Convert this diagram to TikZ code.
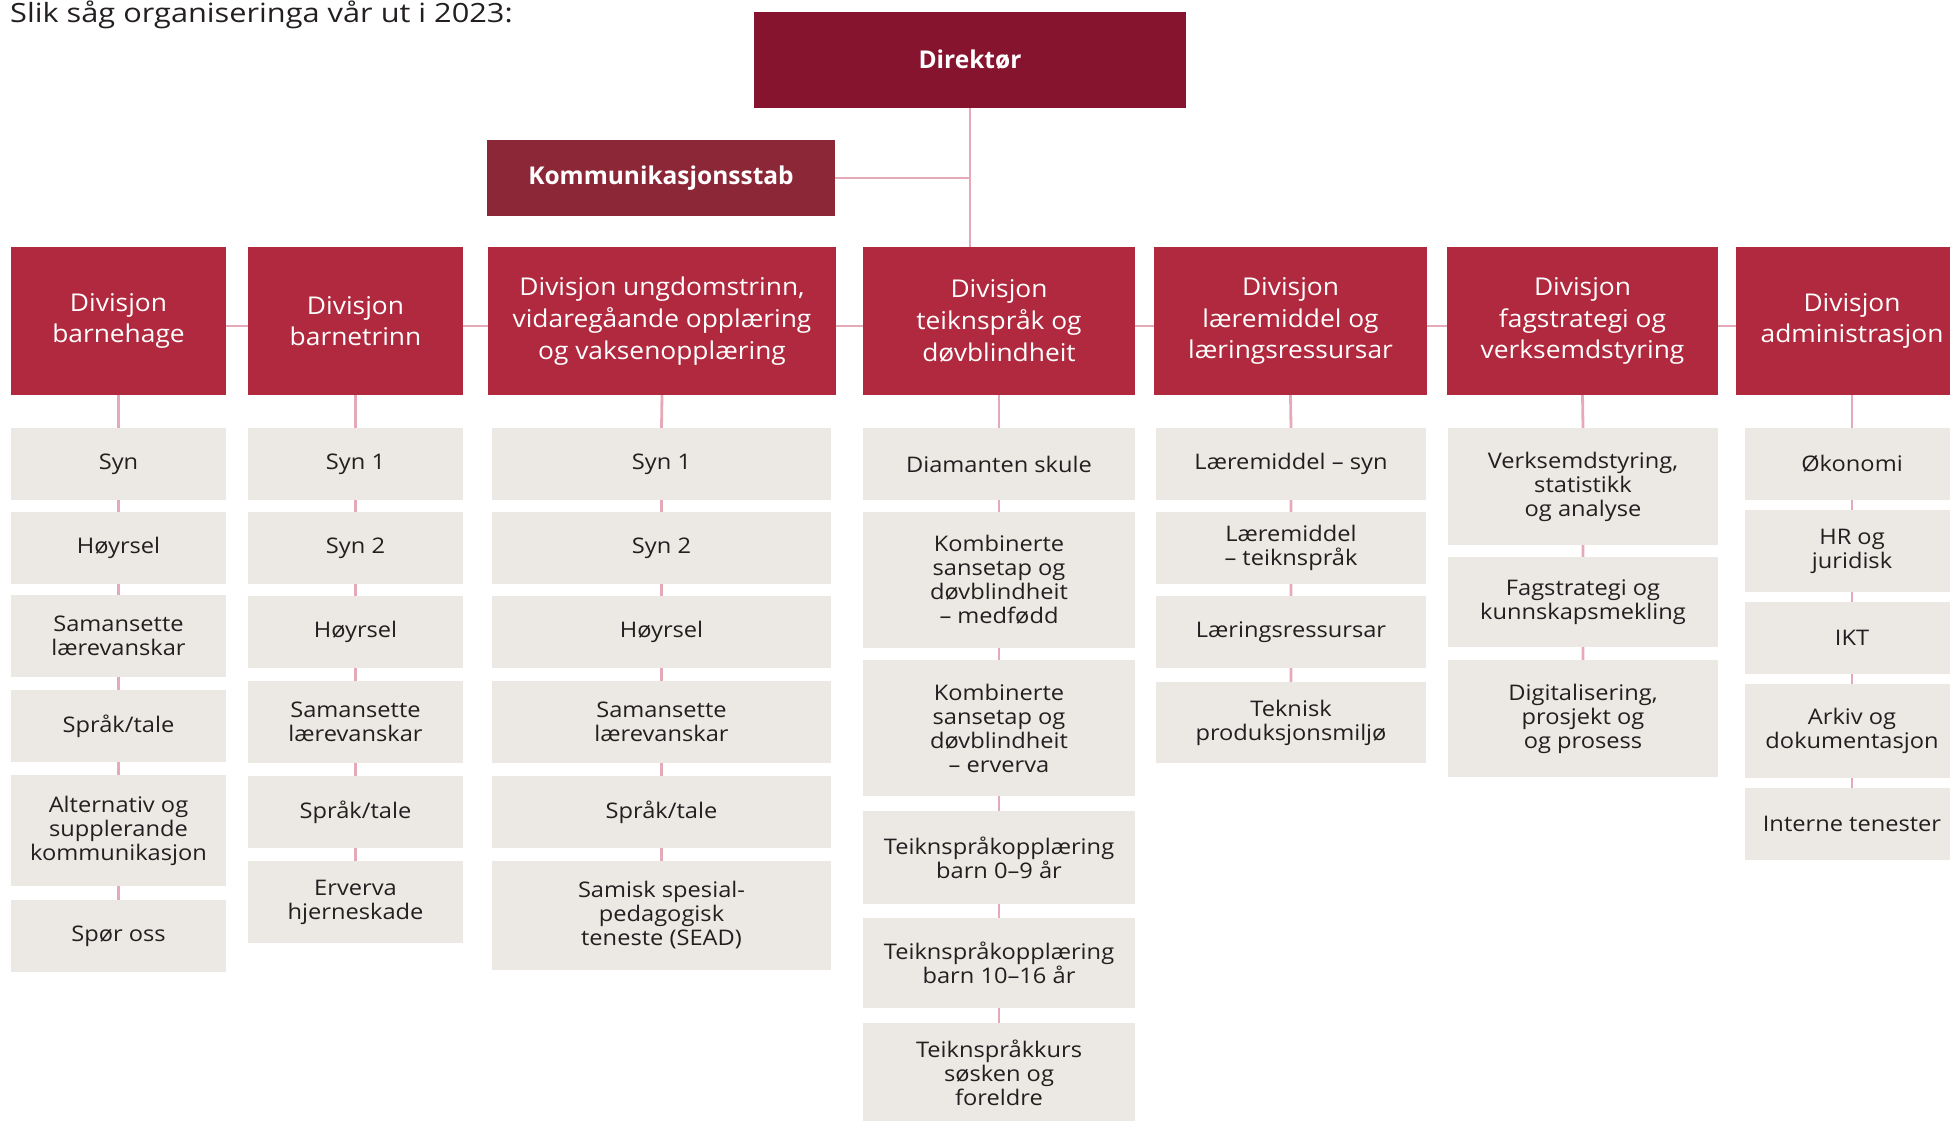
\documentclass[tikz,border=0pt]{standalone}
\usepackage{fontspec}
\setmainfont{Open Sans}
\newfontfamily\divfont[FakeStretch=1.075]{Open Sans}
\newfontfamily\unitfont[FakeStretch=1.1]{Open Sans}
\newfontfamily\titlefont[FakeStretch=1.16]{Open Sans}
\definecolor{dirred}{HTML}{86142F}
\definecolor{stabred}{HTML}{8C2737}
\definecolor{divred}{HTML}{B1293F}
\definecolor{unitgrey}{HTML}{ECE9E5}
\definecolor{linkpink}{HTML}{E5A9B8}
\definecolor{inktext}{HTML}{231F20}
\begin{document}
\begin{tikzpicture}[x=1pt, y=-1pt,
  sz/.style 2 args={minimum width=#1pt, minimum height=#2pt},
  top/.style={text=white, inner sep=0pt, font=\bfseries\fontsize{24.5}{30}\selectfont},
  div/.style={fill=divred, text=white, inner sep=0pt, align=center, font=\divfont\fontsize{24.5}{31.7}\selectfont},
  unit/.style={fill=unitgrey, text=inktext, inner sep=0pt, align=center, font=\unitfont\fontsize{21.5}{24}\selectfont},
  link/.style={draw=linkpink, line width=2.8pt}]
\path[use as bounding box] (0,0) rectangle (1950,1120);
\clip (0,0) rectangle (1950,1120);

\node[anchor=base west, inner sep=0pt, text=inktext, font=\titlefont\fontsize{26.5}{30}\selectfont] (title) at (10,22) {Slik såg organiseringa vår ut i 2023:};

\node[top, fill=dirred, sz={432}{96}] (dir) at (970,60) {Direktør};
\node[top, fill=stabred, sz={348}{76}] (kom) at (661,178) {Kommunikasjonsstab};

\node[div, sz={215}{148}] (d1) at (118.5,321) {Divisjon\\barnehage};
\node[div, sz={215}{148}] (d2) at (355.5,321) {Divisjon\\barnetrinn};
\node[div, sz={348}{148}] (d3) at (662,321) {Divisjon ungdomstrinn,\\vidaregåande opplæring\\og vaksenopplæring};
\node[div, sz={272}{148}] (d4) at (999,321) {Divisjon\\teiknspråk og\\døvblindheit};
\node[div, sz={273}{148}] (d5) at (1290.5,321) {Divisjon\\læremiddel og\\læringsressursar};
\node[div, sz={271}{148}] (d6) at (1582.5,321) {Divisjon\\fagstrategi og\\verksemdstyring};
\node[div, sz={232}{148}] (d7) at (1852,321) {Divisjon\\administrasjon};

%barnehage
\node[unit, sz={215}{72}] (s1a) at (118.5,464) {Syn};
\node[unit, sz={215}{72}] (s1b) at (118.5,548) {Høyrsel};
\node[unit, sz={215}{82}] (s1c) at (118.5,636) {Samansette\\lærevanskar};
\node[unit, sz={215}{72}] (s1d) at (118.5,726) {Språk/tale};
\node[unit, sz={215}{111}] (s1e) at (118.5,830.5) {Alternativ og\\supplerande\\kommunikasjon};
\node[unit, sz={215}{72}] (s1f) at (118.5,936) {Spør oss};

%barnetrinn
\node[unit, sz={215}{72}] (s2a) at (355.5,464) {Syn 1};
\node[unit, sz={215}{72}] (s2b) at (355.5,548) {Syn 2};
\node[unit, sz={215}{72}] (s2c) at (355.5,632) {Høyrsel};
\node[unit, sz={215}{82}] (s2d) at (355.5,722) {Samansette\\lærevanskar};
\node[unit, sz={215}{72}] (s2e) at (355.5,812) {Språk/tale};
\node[unit, sz={215}{82}] (s2f) at (355.5,902) {Erverva\\hjerneskade};

%ungdomstrinn
\node[unit, sz={339}{72}] (s3a) at (661.5,464) {Syn 1};
\node[unit, sz={339}{72}] (s3b) at (661.5,548) {Syn 2};
\node[unit, sz={339}{72}] (s3c) at (661.5,632) {Høyrsel};
\node[unit, sz={339}{82}] (s3d) at (661.5,722) {Samansette\\lærevanskar};
\node[unit, sz={339}{72}] (s3e) at (661.5,812) {Språk/tale};
\node[unit, sz={339}{109}] (s3f) at (661.5,915.5) {Samisk spesial-\\pedagogisk\\teneste (SEAD)};

%teiknspråk
\node[unit, sz={272}{72}] (s4a) at (999,464) {Diamanten skule};
\node[unit, sz={272}{136}] (s4b) at (999,580) {Kombinerte\\sansetap og\\døvblindheit\\– medfødd};
\node[unit, sz={272}{136}] (s4c) at (999,728) {Kombinerte\\sansetap og\\døvblindheit\\– erverva};
\node[unit, sz={272}{93}] (s4d) at (999,857.5) {Teiknspråkopplæring\\barn 0–9 år};
\node[unit, sz={272}{90}] (s4e) at (999,963) {Teiknspråkopplæring\\barn 10–16 år};
\node[unit, sz={272}{100}] (s4f) at (999,1073) {Teiknspråkkurs\\søsken og\\foreldre};

%læremiddel
\node[unit, sz={270}{72}] (s5a) at (1291,464) {Læremiddel – syn};
\node[unit, sz={270}{72}] (s5b) at (1291,548) {Læremiddel\\– teiknspråk};
\node[unit, sz={270}{72}] (s5c) at (1291,632) {Læringsressursar};
\node[unit, sz={270}{81}] (s5d) at (1291,722.5) {Teknisk\\produksjonsmiljø};

%fagstrategi
\node[unit, sz={270}{117}] (s6a) at (1583,486.5) {Verksemdstyring,\\statistikk\\og analyse};
\node[unit, sz={270}{90}] (s6b) at (1583,602) {Fagstrategi og\\kunnskapsmekling};
\node[unit, sz={270}{117}] (s6c) at (1583,718.5) {Digitalisering,\\prosjekt og\\og prosess};

%administrasjon
\node[unit, sz={214}{72}] (s7a) at (1852,464) {Økonomi};
\node[unit, sz={214}{82}] (s7b) at (1852,551) {HR og\\juridisk};
\node[unit, sz={214}{72}] (s7c) at (1852,638) {IKT};
\node[unit, sz={214}{94}] (s7d) at (1852,731) {Arkiv og\\dokumentasjon};
\node[unit, sz={214}{72}] (s7e) at (1852,824) {Interne tenester};

\draw[link] (dir.south) -- (dir.south |- d4.north);
\draw[link] (kom.east) -- (kom.east -| dir.south);
\draw[link] ([yshift=-5pt]d1.east) -- ([yshift=-5pt]d2.west) ([yshift=-5pt]d2.east) -- ([yshift=-5pt]d3.west)
  ([yshift=-5pt]d3.east) -- ([yshift=-5pt]d4.west) ([yshift=-5pt]d4.east) -- ([yshift=-5pt]d5.west)
  ([yshift=-5pt]d5.east) -- ([yshift=-5pt]d6.west) ([yshift=-5pt]d6.east) -- ([yshift=-5pt]d7.west);

%lines down each column
\draw[link] (d1.south) -- (s1a.north) (s1a.south) -- (s1b.north) (s1b.south) -- (s1c.north) (s1c.south) -- (s1d.north) (s1d.south) -- (s1e.north) (s1e.south) -- (s1f.north);
\draw[link] (d2.south) -- (s2a.north) (s2a.south) -- (s2b.north) (s2b.south) -- (s2c.north) (s2c.south) -- (s2d.north) (s2d.south) -- (s2e.north) (s2e.south) -- (s2f.north);
\draw[link] (d3.south) -- (s3a.north) (s3a.south) -- (s3b.north) (s3b.south) -- (s3c.north) (s3c.south) -- (s3d.north) (s3d.south) -- (s3e.north) (s3e.south) -- (s3f.north);
\draw[link] (d4.south) -- (s4a.north) (s4a.south) -- (s4b.north) (s4b.south) -- (s4c.north) (s4c.south) -- (s4d.north) (s4d.south) -- (s4e.north) (s4e.south) -- (s4f.north);
\draw[link] (d5.south) -- (s5a.north) (s5a.south) -- (s5b.north) (s5b.south) -- (s5c.north) (s5c.south) -- (s5d.north);
\draw[link] (d6.south) -- (s6a.north) (s6a.south) -- (s6b.north) (s6b.south) -- (s6c.north);
\draw[link] (d7.south) -- (s7a.north) (s7a.south) -- (s7b.north) (s7b.south) -- (s7c.north) (s7c.south) -- (s7d.north) (s7d.south) -- (s7e.north);

\end{tikzpicture}
\end{document}
